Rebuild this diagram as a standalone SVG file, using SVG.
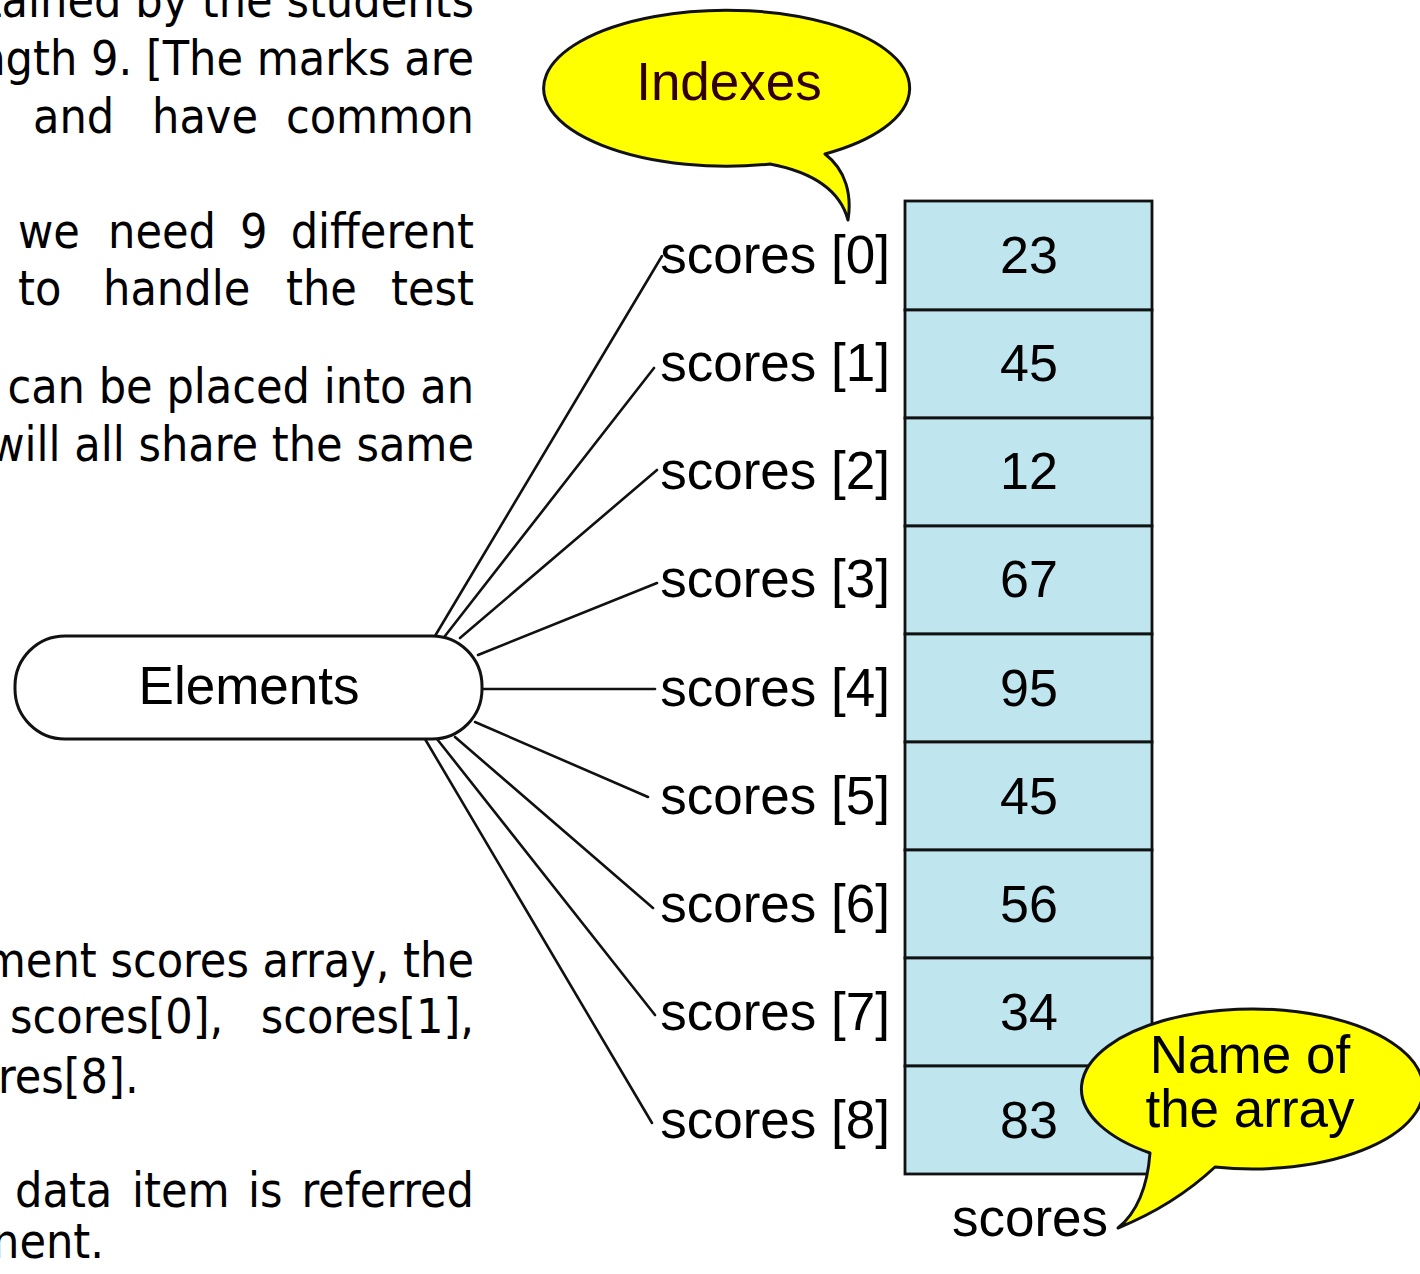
<svg xmlns="http://www.w3.org/2000/svg" width="1420" height="1274" viewBox="0 0 1420 1274">
  <style>
    .body { font-family: "DejaVu Sans Condensed", "DejaVu Sans", sans-serif; font-stretch: condensed; font-size: 48px; fill: #000; }
    .lbl { font-family: "Liberation Sans", Arial, sans-serif; font-size: 53px; fill: #000; }
    .num { font-family: "Liberation Sans", Arial, sans-serif; font-size: 52px; fill: #000; text-anchor: middle; }
    .cell { fill: #bfe6ef; stroke: #111; stroke-width: 2.8; }
    .conn { stroke: #111; stroke-width: 2.6; fill: none; stroke-linecap: round; }
    .bubble { fill: #ffff00; stroke: #111; stroke-width: 3; stroke-linejoin: round; }
  </style>
  <rect width="1420" height="1274" fill="#fff"/>

  <g id="body-text">
    <text class="body" x="474" y="17" text-anchor="end">tained by the students</text>
    <text class="body" x="474" y="75" text-anchor="end">ngth 9. [The marks are</text>
    <text class="body" y="133"><tspan x="33">and</tspan><tspan x="152">have</tspan><tspan x="474" text-anchor="end">common</tspan></text>
    <text class="body" y="248"><tspan x="18">we</tspan><tspan x="108">need</tspan><tspan x="240">9</tspan><tspan x="474" text-anchor="end">different</tspan></text>
    <text class="body" y="305"><tspan x="18">to</tspan><tspan x="103">handle</tspan><tspan x="286">the</tspan><tspan x="474" text-anchor="end">test</tspan></text>
    <text class="body" x="474" y="403" text-anchor="end">can be placed into an</text>
    <text class="body" x="474" y="461" text-anchor="end">will all share the same</text>
    <text class="body" x="474" y="977" text-anchor="end">ment scores array, the</text>
    <text class="body" y="1033"><tspan x="10">scores[0],</tspan><tspan x="474" text-anchor="end">scores[1],</tspan></text>
    <text class="body" x="-2" y="1093">res[8].</text>
    <text class="body" y="1207"><tspan x="15">data</tspan><tspan x="132">item</tspan><tspan x="248">is</tspan><tspan x="474" text-anchor="end">referred</tspan></text>
    <text class="body" x="-8" y="1258">nent.</text>
  </g>

  <g id="connectors">
    <line class="conn" x1="435" y1="636" x2="662" y2="256"/>
    <line class="conn" x1="445" y1="636" x2="654" y2="368"/>
    <line class="conn" x1="460" y1="638" x2="657" y2="470"/>
    <line class="conn" x1="478" y1="655" x2="657" y2="583"/>
    <line class="conn" x1="482" y1="689" x2="655" y2="689"/>
    <line class="conn" x1="475" y1="722" x2="648" y2="797"/>
    <line class="conn" x1="455" y1="737" x2="653" y2="908"/>
    <line class="conn" x1="437" y1="739" x2="655" y2="1015"/>
    <line class="conn" x1="425" y1="739" x2="652" y2="1123"/>
  </g>

  <g id="elements">
    <rect x="15" y="636" width="467" height="103" rx="50" ry="50" fill="#fff" stroke="#111" stroke-width="3"/>
    <text class="lbl" x="249" y="704" text-anchor="middle">Elements</text>
  </g>

  <g id="array-scores">
    <rect class="cell" x="905" y="201" width="247" height="109"/>
    <rect class="cell" x="905" y="310" width="247" height="108"/>
    <rect class="cell" x="905" y="418" width="247" height="108"/>
    <rect class="cell" x="905" y="526" width="247" height="108"/>
    <rect class="cell" x="905" y="634" width="247" height="108"/>
    <rect class="cell" x="905" y="742" width="247" height="108"/>
    <rect class="cell" x="905" y="850" width="247" height="108"/>
    <rect class="cell" x="905" y="958" width="247" height="108"/>
    <rect class="cell" x="905" y="1066" width="247" height="108"/>
    <text class="num" x="1029" y="273">23</text>
    <text class="num" x="1029" y="381">45</text>
    <text class="num" x="1029" y="489">12</text>
    <text class="num" x="1029" y="597">67</text>
    <text class="num" x="1029" y="706">95</text>
    <text class="num" x="1029" y="814">45</text>
    <text class="num" x="1029" y="922">56</text>
    <text class="num" x="1029" y="1030">34</text>
    <text class="num" x="1029" y="1138">83</text>
    <text class="lbl" x="1030" y="1236" text-anchor="middle" font-size="52">scores</text>
  </g>

  <g id="index-labels">
    <text class="lbl" x="890" y="273" text-anchor="end">scores [0]</text>
    <text class="lbl" x="890" y="381" text-anchor="end">scores [1]</text>
    <text class="lbl" x="890" y="489" text-anchor="end">scores [2]</text>
    <text class="lbl" x="890" y="597" text-anchor="end">scores [3]</text>
    <text class="lbl" x="890" y="706" text-anchor="end">scores [4]</text>
    <text class="lbl" x="890" y="814" text-anchor="end">scores [5]</text>
    <text class="lbl" x="890" y="922" text-anchor="end">scores [6]</text>
    <text class="lbl" x="890" y="1030" text-anchor="end">scores [7]</text>
    <text class="lbl" x="890" y="1138" text-anchor="end">scores [8]</text>
  </g>

  <g id="bubble-indexes">
    <path class="bubble" d="M 825 154 A 183 78 0 1 0 770 164 C 812 172 840 190 848 220 C 852 195 846 170 825 154 Z"/>
    <text class="lbl" x="729" y="100" text-anchor="middle" style="fill:#330000">Indexes</text>
  </g>

  <g id="bubble-name">
    <path class="bubble" d="M 1150 1153 A 171 80 0 1 1 1215 1167 C 1185 1195 1150 1215 1118 1228 C 1140 1210 1148 1180 1150 1153 Z"/>
    <text class="lbl" x="1250" y="1073" text-anchor="middle">Name of</text>
    <text class="lbl" x="1250" y="1127" text-anchor="middle">the array</text>
  </g>
</svg>
